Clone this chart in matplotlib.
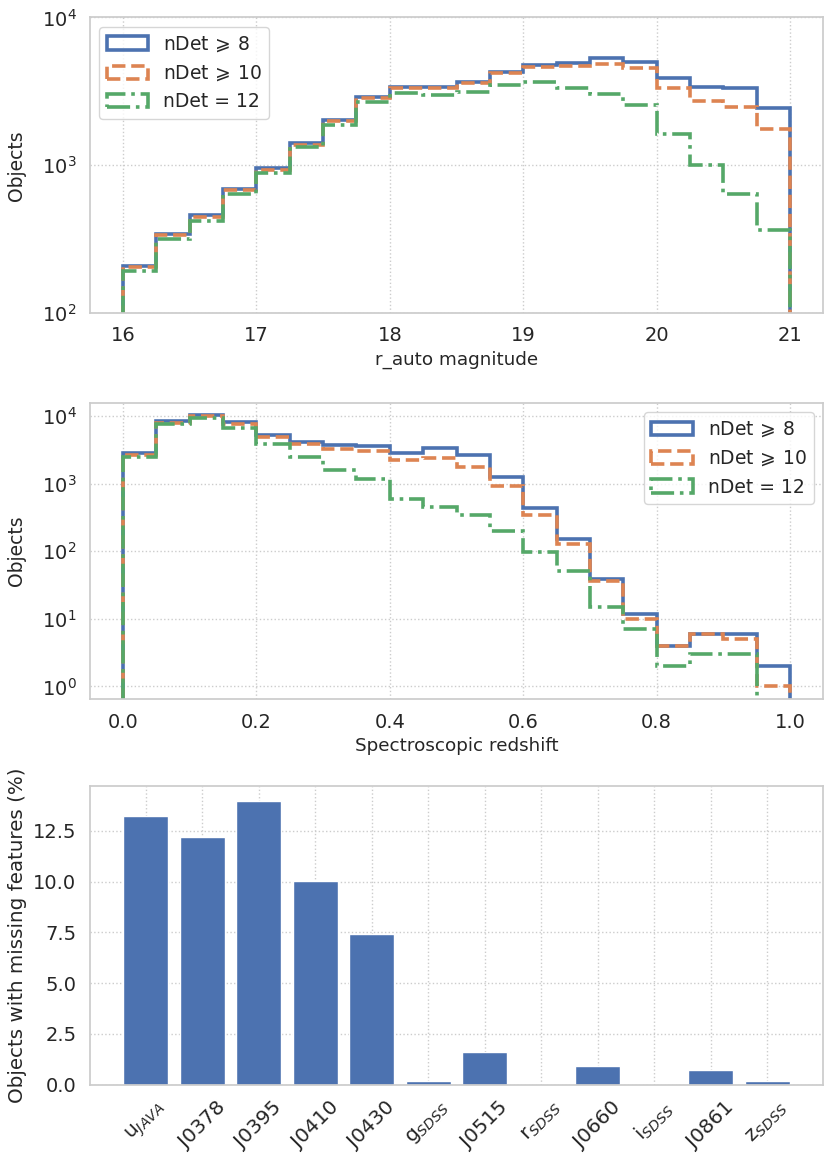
import numpy as np
import matplotlib
matplotlib.use("Agg")
import matplotlib.pyplot as plt
from matplotlib.ticker import MultipleLocator
import seaborn as sns

# r_auto magnitude histogram (bin edges 16..21, width 0.25)
mag_edges = np.arange(16, 21.01, 0.25)
mag_ndet8 = [209, 345, 458, 693, 955, 1413, 2037, 2911, 3398, 3400,
             3675, 4290, 4777, 4955, 5300, 5010, 3910, 3400, 3310, 2455]
mag_ndet10 = [204, 336, 445, 676, 930, 1376, 1995, 2850, 3310, 3310,
              3580, 4225, 4634, 4680, 4875, 4517, 3350, 2725, 2485, 1754]
mag_ndet12 = [194, 319, 420, 641, 883, 1321, 1880, 2690, 3097, 2986,
              3147, 3470, 3655, 3310, 3020, 2548, 1625, 1000, 641, 367]

# spectroscopic redshift histogram (bin edges 0..1, width 0.05)
z_edges = np.arange(0, 1.001, 0.05)
z_ndet8 = [2820, 8530, 10590, 8150, 5280, 4160, 3710, 3625, 2885, 3425,
           2667, 1270, 440, 154, 39, 12, 4, 6, 6, 2]
z_ndet10 = [2636, 8050, 10110, 7780, 4930, 3925, 3310, 3055, 2220, 2434,
            1786, 923, 350, 128, 37, 10, 4, 6, 5, 1]
z_ndet12 = [2460, 7690, 9440, 6640, 3880, 2518, 1578, 1159, 599, 455,
            343, 203, 98, 52, 15, 7, 2, 3, 3, 0]

# missing features per band (%)
bands = [r"u$_{JAVA}$", "J0378", "J0395", "J0410", "J0430", r"g$_{SDSS}$",
         "J0515", r"r$_{SDSS}$", "J0660", r"i$_{SDSS}$", "J0861", r"z$_{SDSS}$"]
missing = [13.25, 12.22, 13.99, 10.01, 7.44, 0.2, 1.62, 0.0, 0.93, 0.0, 0.74, 0.2]

labels = [r"nDet$\,\geqslant\,$8", r"nDet$\,\geqslant\,$10", "nDet = 12"]
styles = ["-", "--", "-."]

sns.set_theme(style="whitegrid")
plt.rcParams["grid.linestyle"] = ":"
plt.rcParams["font.family"] = ["DejaVu Sans"]
plt.rcParams["mathtext.fontset"] = "dejavusans"

colors = sns.color_palette("deep")

fig = plt.figure(figsize=(8.3, 11.6), dpi=100)
ax1 = fig.add_axes([0.108, 0.730, 0.884, 0.255])
ax2 = fig.add_axes([0.108, 0.397, 0.884, 0.256])
ax3 = fig.add_axes([0.108, 0.065, 0.884, 0.257])

# Plot 1 - magnitude
centers = (mag_edges[:-1] + mag_edges[1:]) / 2
for vals, lab, ls, c in zip([mag_ndet8, mag_ndet10, mag_ndet12], labels, styles, colors):
    ax1.hist(centers, bins=mag_edges, weights=vals, histtype="step", log=True,
             lw=2.6, ls=ls, color=c, label=lab)
ax1.set_ylim(1e2, 1e4)
ax1.set_xlabel("r_auto magnitude", fontsize=13.2)
ax1.set_ylabel("Objects", fontsize=13.5, labelpad=11)
ax1.tick_params(labelsize=14)
ax1.legend(loc="upper left", fontsize=13.5, handlelength=2.2)

# Plot 2 - redshift
centers = (z_edges[:-1] + z_edges[1:]) / 2
for vals, lab, ls, c in zip([z_ndet8, z_ndet10, z_ndet12], labels, styles, colors):
    ax2.hist(centers, bins=z_edges, weights=vals, histtype="step", log=True,
             lw=2.6, ls=ls, color=c, label=lab)
ax2.set_ylim(0.64, 1.6e4)
ax2.set_xlabel("Spectroscopic redshift", fontsize=13.2)
ax2.set_ylabel("Objects", fontsize=13.5, labelpad=11)
ax2.tick_params(labelsize=14)
ax2.legend(loc="upper right", fontsize=13.5, handlelength=2.2)

# Plot 3 - missing features
x = np.arange(len(bands))
ax3.bar(x, missing, width=0.8, color=colors[0])
ax3.set_xticks(x)
ax3.set_xticklabels(bands, rotation=45, fontsize=14.5)
ax3.yaxis.set_major_locator(MultipleLocator(2.5))
ax3.set_ylabel("Objects with missing features (%)", fontsize=14.3)
ax3.tick_params(labelsize=14)
ax3.tick_params(axis="x", labelsize=14.5)

fig.savefig("out.png", dpi=100)
